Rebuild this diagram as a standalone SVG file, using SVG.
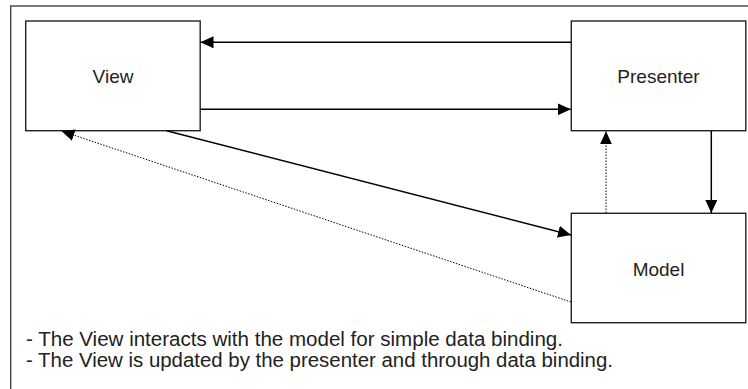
<svg xmlns="http://www.w3.org/2000/svg" width="748" height="389" viewBox="0 0 748 389">
<style>
.box{fill:#fff;stroke:#222;stroke-width:1.4}
.lbl{font-family:"Liberation Sans",Arial,sans-serif;font-size:19px;fill:#222;text-anchor:middle}
.note{font-family:"Liberation Sans",Arial,sans-serif;font-size:20px;fill:#222}
.solid{stroke:#000;stroke-width:1.5;fill:none}
.dot{stroke:#000;stroke-width:1;stroke-dasharray:1.5 1.5;fill:none}
</style>
<defs>
<marker id="ah" markerUnits="userSpaceOnUse" markerWidth="13" markerHeight="12" refX="13" refY="6" orient="auto">
<path d="M0,0 L13,6 L0,12 z" fill="#000"/>
</marker>
</defs>
<rect x="10.7" y="6" width="800" height="420" fill="none" stroke="#444" stroke-width="1.4"/>
<g id="view"><rect class="box" x="25.7" y="21" width="174.5" height="109.7"/><text class="lbl" x="113" y="83">View</text></g>
<g id="presenter"><rect class="box" x="571.3" y="21" width="174.5" height="109.7"/><text class="lbl" x="658.5" y="83">Presenter</text></g>
<g id="model"><rect class="box" x="571.3" y="213.3" width="174.5" height="109.4"/><text class="lbl" x="658.5" y="276">Model</text></g>
<g id="connectors">
<line class="solid" x1="571" y1="42.3" x2="200.5" y2="42.3" marker-end="url(#ah)"/>
<line class="solid" x1="200" y1="109.3" x2="570.8" y2="109.3" marker-end="url(#ah)"/>
<line class="solid" x1="711.3" y1="131" x2="711.3" y2="213" marker-end="url(#ah)"/>
<line class="dot" x1="606" y1="213" x2="606" y2="131.3" marker-end="url(#ah)"/>
<line class="solid" x1="166.5" y1="130.7" x2="571" y2="235" marker-end="url(#ah)"/>
<line class="dot" x1="571" y1="302" x2="61.5" y2="131" marker-end="url(#ah)"/>
</g>
<g id="notes">
<text class="note" x="26" y="346" textLength="537" lengthAdjust="spacingAndGlyphs">- The View interacts with the model for simple data binding.</text>
<text class="note" x="26" y="367" textLength="587" lengthAdjust="spacingAndGlyphs">- The View is updated by the presenter and through data binding.</text>
</g>
</svg>
